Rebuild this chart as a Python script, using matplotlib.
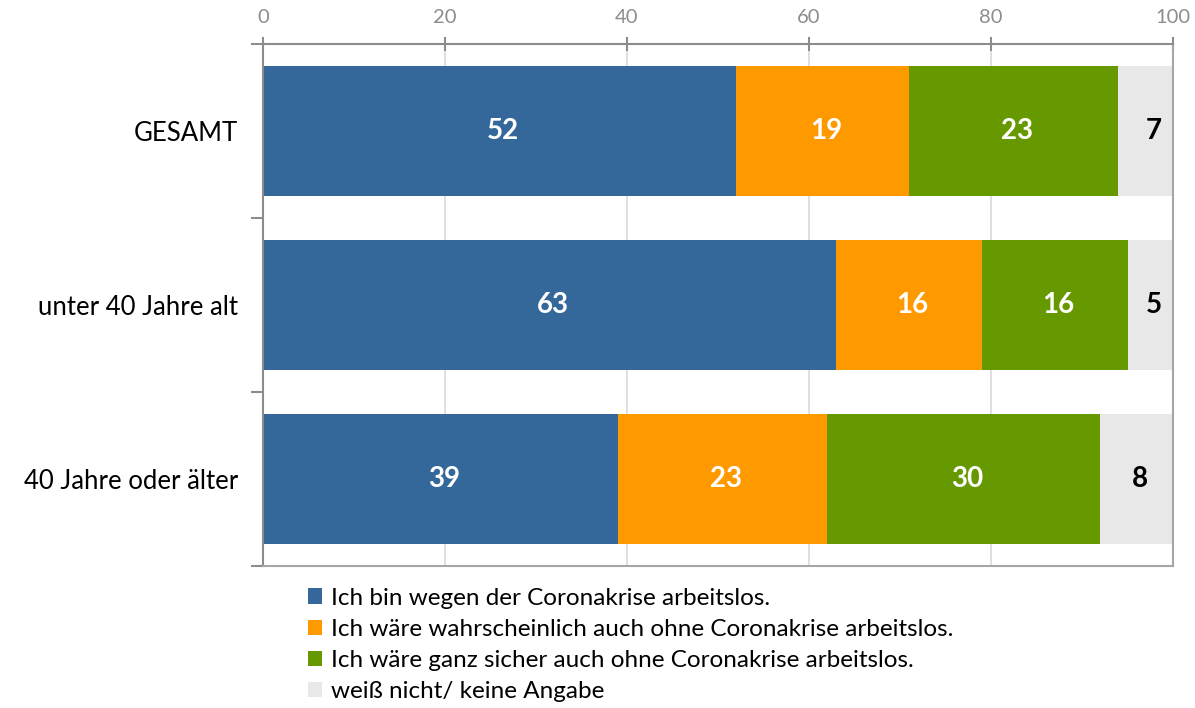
import matplotlib.pyplot as plt
import numpy as np

plt.rcParams['font.family'] = ['Lato', 'DejaVu Sans']

categories = ["GESAMT", "unter 40 Jahre alt", "40 Jahre oder älter"]
series_names = [
    "Ich bin wegen der Coronakrise arbeitslos.",
    "Ich wäre wahrscheinlich auch ohne Coronakrise arbeitslos.",
    "Ich wäre ganz sicher auch ohne Coronakrise arbeitslos.",
    "weiß nicht/ keine Angabe",
]
wegen_corona = [52, 63, 39]
wahrscheinlich = [19, 16, 23]
ganz_sicher = [23, 16, 30]
weiss_nicht = [7, 5, 8]

colors = ["#35689A", "#FF9900", "#669900", "#E8E8E8"]
label_colors = ["white", "white", "white", "black"]

fig = plt.figure(figsize=(11.95, 7.08), dpi=100)
ax = fig.add_axes([263 / 1195, 1 - 566 / 708, 910 / 1195, 522 / 708])

y = np.arange(len(categories))
left = np.zeros(len(categories))
for vals, name, col, lc in zip([wegen_corona, wahrscheinlich, ganz_sicher, weiss_nicht],
                               series_names, colors, label_colors):
    vals = np.array(vals, dtype=float)
    bars = ax.barh(y, vals, left=left, height=0.75, color=col, label=name, zorder=2)
    for b, v, l in zip(bars, vals, left):
        ax.text(l + v / 2 + 0.4, b.get_y() + b.get_height() / 2, f"{int(v)}", ha="center",
                va="center", color=lc, fontsize=20, fontweight="bold", zorder=3)
    left += vals

ax.set_xlim(0, 100)
ax.set_ylim(2.5, -0.5)
ax.xaxis.tick_top()
ax.set_xticks([0, 20, 40, 60, 80, 100])
ax.tick_params(axis="x", direction="inout", length=10, width=1.5, color="#8C8C8C",
               labelcolor="#8C8C8C", labelsize=14.5, pad=8)
ax.grid(axis="x", color="#D9D9D9", linewidth=1.2, zorder=0)

ax.set_yticks(y)
ax.set_yticklabels(categories, fontsize=18.5)
ax.tick_params(axis="y", length=0, pad=18)
ax.set_yticks([-0.5, 0.5, 1.5, 2.5], minor=True)
ax.tick_params(axis="y", which="minor", length=9, width=1.5, color="#8C8C8C", direction="out")

for s in ax.spines.values():
    s.set_color("#8C8C8C")
    s.set_linewidth(1.5)
ax.spines["right"].set_color("#A6A6A6")
ax.spines["bottom"].set_color("#A6A6A6")

handles, labels = ax.get_legend_handles_labels()
fig.legend(handles, labels, loc="upper left", bbox_to_anchor=(298 / 1195, 1 - 578 / 708),
           frameon=False, fontsize=17.5, handlelength=0.6, handleheight=0.6,
           handletextpad=0.35, labelspacing=0.42, borderaxespad=0)

fig.savefig("out.png", dpi=100)
